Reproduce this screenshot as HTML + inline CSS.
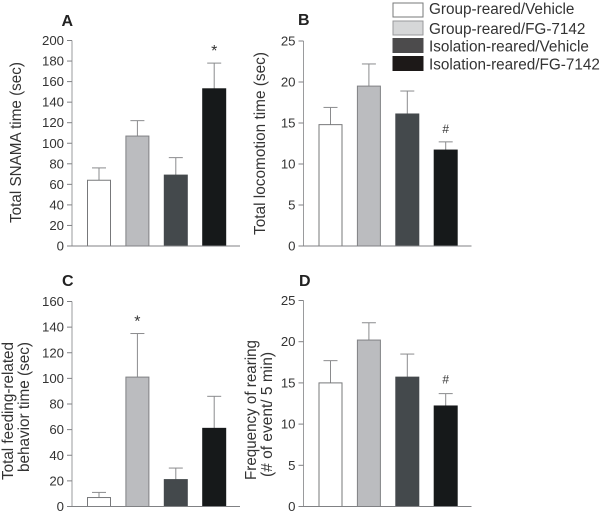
<!DOCTYPE html>
<html>
<head>
<meta charset="utf-8">
<style>
html,body{margin:0;padding:0;background:#fff;width:600px;height:512px;overflow:hidden}
svg{display:block;font-family:"Liberation Sans",sans-serif}
</style>
</head>
<body>
<svg id="figure" width="600" height="512" viewBox="0 0 600 512" xmlns="http://www.w3.org/2000/svg">
  <g>
    <rect x="393" y="3" width="30" height="14" fill="#fff" stroke="#77787a" stroke-width="1"/>
    <rect x="393" y="21" width="30" height="14" fill="#d6d7d8" stroke="#98999b" stroke-width="1"/>
    <rect x="392.5" y="38" width="31" height="15" fill="#4c4b4c"/>
    <rect x="392.5" y="56" width="31" height="15" fill="#1d1918"/>
    <text x="429" y="14" font-size="15.3" fill="#333">Group-reared/Vehicle</text>
    <text x="429" y="34" font-size="15.3" fill="#333">Group-reared/FG-7142</text>
    <text x="429" y="51.5" font-size="15.3" fill="#333">Isolation-reared/Vehicle</text>
    <text x="429" y="69.5" font-size="15.3" fill="#333">Isolation-reared/FG-7142</text>
  </g>
</svg>
<script>
var groupFills = ['#ffffff', '#bbbcbf', '#44494c', '#16191a'];
var groupStrokes = ['#77787a', '#808184', '#44494c', '#16191a'];

var panelAValues = [64, 107, 69, 153];
var panelAErrorTops = [76, 122, 86, 178];
var panelATicks = [0, 20, 40, 60, 80, 100, 120, 140, 160, 180, 200];

var panelBValues = [14.8, 19.5, 16.1, 11.7];
var panelBErrorTops = [16.9, 22.2, 18.9, 12.7];
var panelBTicks = [0, 5, 10, 15, 20, 25];

var panelCValues = [7, 101, 21, 61];
var panelCErrorTops = [11, 135, 30, 86];
var panelCTicks = [0, 20, 40, 60, 80, 100, 120, 140, 160];

var panelDValues = [15, 20.2, 15.7, 12.2];
var panelDErrorTops = [17.7, 22.3, 18.5, 13.7];
var panelDTicks = [0, 5, 10, 15, 20, 25];

var svg = document.getElementById('figure');
var NS = 'http://www.w3.org/2000/svg';

function make(parent, tag, attrs, text) {
  var el = document.createElementNS(NS, tag);
  for (var k in attrs) el.setAttribute(k, attrs[k]);
  if (text !== undefined) el.textContent = text;
  parent.appendChild(el);
  return el;
}

function drawPanel(cfg) {
  var g = make(svg, 'g', {});
  
  

  var maxTick = cfg.ticks[cfg.ticks.length - 1];
  function yScale(v) { return cfg.y0 - (v / maxTick) * (cfg.y0 - cfg.yTop); }
  function xScale(i) { return cfg.axisX + 15.5 + i * 38.4; }

  var title = make(g, 'text', {x: cfg.letterX, y: cfg.letterY, 'font-size': 16, 'font-weight': 'bold', fill: '#222'}, cfg.letter);
  
  

  cfg.values.forEach(function (v, i) {
    var x = xScale(i);
    var cx = x + 11.5;
    var errStem = make(g, 'line', {x1: cx, x2: cx, y1: yScale(v), y2: yScale(cfg.errors[i]), stroke: '#8a8b8d', 'stroke-width': 1});
    
    
    var errCap = make(g, 'line', {x1: cx - 7, x2: cx + 7, y1: yScale(cfg.errors[i]), y2: yScale(cfg.errors[i]), stroke: '#8a8b8d', 'stroke-width': 1});
    
    
    var bar = make(g, 'rect', {x: x, y: yScale(v), width: 23, height: cfg.y0 - yScale(v), fill: groupFills[i], stroke: groupStrokes[i], 'stroke-width': 1});
    
    
  });

  var yAxis = make(g, 'line', {x1: cfg.axisX, x2: cfg.axisX, y1: cfg.yTop, y2: cfg.y0, stroke: '#9a9b9d', 'stroke-width': 1});
  
  
  var xAxis = make(g, 'line', {x1: cfg.axisX - 4, x2: cfg.axisX + 168, y1: cfg.y0, y2: cfg.y0, stroke: '#808184', 'stroke-width': 1});
  
  

  cfg.ticks.forEach(function (t) {
    var tick = make(g, 'line', {x1: cfg.axisX - 5, x2: cfg.axisX, y1: yScale(t), y2: yScale(t), stroke: '#808184', 'stroke-width': 1});
    
    
    var label = make(g, 'text', {x: cfg.axisX - 8, y: yScale(t) + 4.5, 'font-size': 13.2, 'text-anchor': 'end', fill: '#333'}, String(t));
    
    
  });

  cfg.yLabel.forEach(function (line) {
    var lab = make(g, 'text', {x: line.x, y: line.y, 'font-size': line.size, 'text-anchor': 'middle', textLength: line.len, lengthAdjust: 'spacingAndGlyphs', fill: '#333', transform: 'rotate(-90 ' + line.x + ' ' + line.y + ')'}, line.text);
    
    
  });

  var mx = xScale(cfg.markIndex) + 11.5;
  var mark = make(g, 'text', {x: mx, y: yScale(cfg.errors[cfg.markIndex]) - cfg.markGap, 'font-size': cfg.mark === '*' ? 16 : 12, 'text-anchor': 'middle', fill: '#333'}, cfg.mark);
  
  
}

drawPanel({letter: 'A', letterX: 61.5, letterY: 26, axisX: 72, y0: 246, yTop: 40.5, values: panelAValues, errors: panelAErrorTops, ticks: panelATicks,
  yLabel: [{text: 'Total SNAMA time (sec)', x: 21, y: 142.5, size: 16, len: 161}], mark: '*', markIndex: 3, markGap: 7});
drawPanel({letter: 'B', letterX: 298, letterY: 25, axisX: 303.5, y0: 246, yTop: 41, values: panelBValues, errors: panelBErrorTops, ticks: panelBTicks,
  yLabel: [{text: 'Total locomotion time (sec)', x: 265, y: 143.5, size: 16, len: 183}], mark: '#', markIndex: 3, markGap: 9});
drawPanel({letter: 'C', letterX: 62, letterY: 286, axisX: 72, y0: 506.5, yTop: 301.5, values: panelCValues, errors: panelCErrorTops, ticks: panelCTicks,
  yLabel: [{text: 'Total feeding-related', x: 13, y: 411, size: 15.5, len: 138}, {text: 'behavior time (sec)', x: 29, y: 407, size: 15.5, len: 130}], mark: '*', markIndex: 1, markGap: 7});
drawPanel({letter: 'D', letterX: 299, letterY: 286, axisX: 303.5, y0: 506.5, yTop: 300.5, values: panelDValues, errors: panelDErrorTops, ticks: panelDTicks,
  yLabel: [{text: 'Frequency of rearing', x: 256, y: 410, size: 15.5, len: 140}, {text: '(# of event/ 5 min)', x: 272, y: 414.5, size: 15.5, len: 125}], mark: '#', markIndex: 3, markGap: 10});
</script>
</body>
</html>
